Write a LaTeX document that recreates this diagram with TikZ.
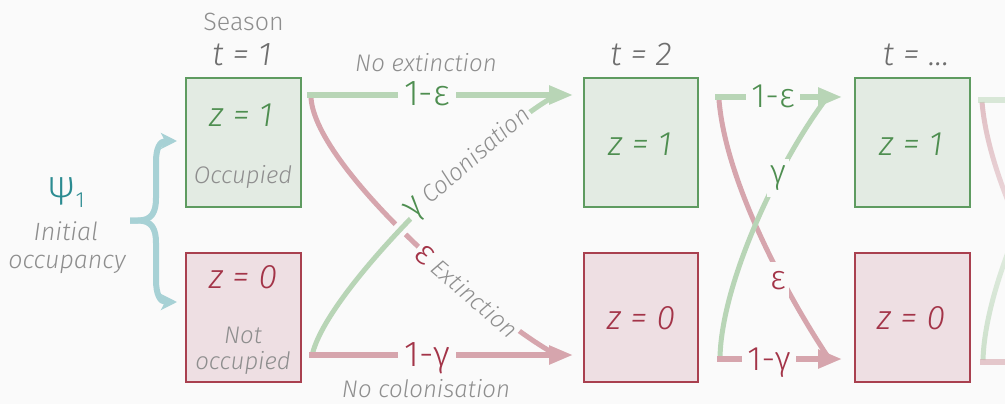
\documentclass[tikz,border=0pt]{standalone}
\usepackage{fontspec}
\setmainfont{Fira Sans}[UprightFont=* Light, ItalicFont=* Light Italic]
\usetikzlibrary{arrows.meta,fadings}
\definecolor{bg}{HTML}{FAFAFA}
\definecolor{gfill}{HTML}{E3EBE3}
\definecolor{gborder}{HTML}{5E9B60}
\definecolor{rfill}{HTML}{EEDFE3}
\definecolor{rborder}{HTML}{A9404F}
\definecolor{garrow}{HTML}{B8D5B6}
\definecolor{rarrow}{HTML}{D6A5AD}
\definecolor{gtext}{HTML}{4E8E50}
\definecolor{rtext}{HTML}{A33448}
\definecolor{grayA}{HTML}{8E8E8E}
\definecolor{grayB}{HTML}{6E6E6E}
\definecolor{tealL}{HTML}{A7D1D5}
\definecolor{tealT}{HTML}{2B8B91}
\newcommand\myfs[1]{\fontsize{#1}{#1}\selectfont}
\tikzfading[name=fadedown, top color=transparent!30, middle color=transparent!95, bottom color=transparent!100]
\tikzfading[name=fadeup, top color=transparent!100, middle color=transparent!95, bottom color=transparent!30]
\begin{document}
\begin{tikzpicture}[x=1pt,y=-1pt,
  gbox/.style={draw=gborder, fill=gfill, line width=2pt, minimum width=115pt, minimum height=129pt, outer sep=0pt, inner sep=0pt},
  rbox/.style={draw=rborder, fill=rfill, line width=2pt, minimum width=115pt, minimum height=129pt, outer sep=0pt, inner sep=0pt},
  garr/.style={draw=garrow, line width=5.5pt, -{Triangle[length=24pt,width=18pt]}},
  rarr/.style={draw=rarrow, line width=5.5pt, -{Triangle[length=24pt,width=18pt]}},
  gcurve/.style={draw=garrow, line width=5pt},
  rcurve/.style={draw=rarrow, line width=5pt},
  brace/.style={draw=tealL, line width=6pt, line join=round, -{Stealth[length=16pt,width=16pt,inset=4pt]}},
  onlab/.style={fill=bg, inner sep=3pt},
  gl/.style={text=grayA, font=\myfs{24}\itshape},
  zg/.style={anchor=base, text=gtext, font=\myfs{34}\itshape},
  zr/.style={anchor=base, text=rtext, font=\myfs{34}\itshape},
  tl/.style={anchor=base, text=grayB, font=\myfs{33}\itshape}
]
\useasboundingbox (0,0) rectangle (1005,404);
\fill[bg] (0,0) rectangle (1005,404);

% boxes
\node[gbox] (b1t) at (243.5,142.5) {};
\node[rbox] (b1b) at (243.5,317.5) {};
\node[gbox, minimum width=114pt] (b2t) at (641,142.5) {};
\node[rbox, minimum width=114pt] (b2b) at (641,317.5) {};
\node[gbox] (b3t) at (912.5,142.5) {};
\node[rbox] (b3b) at (912.5,317.5) {};

% brace
\coordinate (bmid) at (130,220.5);
\draw[brace] (bmid) -- (138,220.5) .. controls (152,220.5) and (156,212) .. (156,198) -- (156,162) .. controls (156,148) and (160,141) .. ([shift={(-9,-1.5)}]b1t.west);
\draw[brace] (bmid) -- (138,220.5) .. controls (152,220.5) and (156,229) .. (156,243) -- (156,280) .. controls (156,294) and (160,302) .. ([shift={(-9,-15.5)}]b1b.west);

% transition 1
\draw[rcurve] ([shift={(10,-44.5)}]b1t.east) .. controls +(5,72) and +(-60,-32) .. ([shift={(-29,36.5)}]b2b.west);
\draw[gcurve, preaction={draw=bg, line width=14pt}] ([shift={(11,38.5)}]b1b.east) .. controls +(13,-66) and +(-60,32) .. ([shift={(-29,-46.5)}]b2t.west);
\draw[garr] ([shift={(6,-47.5)}]b1t.east) -- ([shift={(-11,-47.5)}]b2t.west);
\draw[rarr] ([shift={(8,37.5)}]b1b.east) -- ([shift={(-11,37.5)}]b2b.west);

% transition 2
\draw[rcurve] ([shift={(21,-42.5)}]b2t.east) .. controls +(7,85) and +(-38,-57) .. ([shift={(-27,39.5)}]b3b.west);
\draw[gcurve] ([shift={(22,39.5)}]b2b.east) .. controls +(2,-77) and +(-46,61) .. ([shift={(-29,-43.5)}]b3t.west);
\draw[garr] ([shift={(17,-45.5)}]b2t.east) -- ([shift={(-13,-45.5)}]b3t.west);
\draw[rarr] ([shift={(19,41.5)}]b2b.east) -- ([shift={(-13,41.5)}]b3b.west);

% transition 3 (fading out)
\coordinate (nextT) at (1010,100);
\coordinate (nextB) at (1010,362);
\coordinate (nextR) at (1091,357);
\coordinate (nextG) at (1089,99);
\draw[rcurve, path fading=fadedown] ([shift={(12,-40.5)}]b3t.east) .. controls +(7,85) and +(-38,-57) .. (nextR);
\draw[gcurve, path fading=fadeup] ([shift={(13,42.5)}]b3b.east) .. controls +(2,-77) and +(-46,61) .. (nextG);
\draw[gcurve, line width=5.5pt, opacity=0.5] ([shift={(8,-42.5)}]b3t.east) -- (nextT);
\draw[rcurve, line width=5.5pt, opacity=0.6] ([shift={(10,44.5)}]b3b.east) -- (nextB);

% labels on connectors
\node[onlab, text=gtext, font=\myfs{36}, anchor=base, inner xsep=6pt] (l1e) at (427,106) {1-ε};
\node[onlab, text=rtext, font=\myfs{36}, anchor=base, inner xsep=6pt] (l1g) at (427,366) {1-γ};
\node[onlab, font=\myfs{35}, text=gtext, rotate=41, inner sep=2pt] (l1c) at (469,164) {γ\hspace{6pt}{\color{grayA}\myfs{24}\itshape Colonisation}};
\node[onlab, font=\myfs{35}, text=rtext, rotate=-41, inner sep=2pt] (l1x) at (467,291) {ε\hspace{6pt}{\color{grayA}\myfs{24}\itshape Extinction}};
\node[onlab, text=gtext, font=\myfs{34}, anchor=base, inner xsep=5pt] (l2e) at (773,107) {1-ε};
\node[onlab, text=rtext, font=\myfs{34}, anchor=base, inner xsep=5pt] (l2g) at (769,370) {1-γ};
\node[onlab, text=gtext, font=\myfs{34}, inner xsep=3pt, inner ysep=6pt] (l2c) at (778,178) {γ};
\node[onlab, text=rtext, font=\myfs{34}, inner xsep=3pt, inner ysep=10pt] (l2x) at (778,281) {ε};

% headings
\node[anchor=base, text=grayA, font=\myfs{25}] (season) at (243.5,31) {Season};
\node[tl] (tt1) at (242,66) {t = 1};
\node[tl] (tt2) at (641,66) {t = 2};
\node[tl] (tt3) at (916,66) {t = ...};
\node[gl, anchor=base] (noext) at (426,72) {No extinction};
\node[gl, anchor=base] (nocol) at (426,397) {No colonisation};

% box texts
\node[zg] (z1a) at (241,126) {z = 1};
\node[gl, anchor=base] (occ) at (243,183) {Occupied};
\node[zr] (z0a) at (243,288) {z = 0};
\node[gl, anchor=base] (notocc1) at (243,343) {Not};
\node[gl, anchor=base] (notocc2) at (243,369) {occupied};
\node[zg] (z1b) at (640,155) {z = 1};
\node[zr] (z0b) at (641,329) {z = 0};
\node[zg] (z1c) at (911,155) {z = 1};
\node[zr] (z0c) at (911,329) {z = 0};

% initial occupancy
\node[anchor=base, text=tealT] (psi) at (66,197) {\myfs{38}ψ\raisebox{-10pt}{\myfs{22}1}};
\node[gl, font=\myfs{25}\itshape, anchor=base] (init1) at (66,240) {Initial};
\node[gl, font=\myfs{25}\itshape, anchor=base] (init2) at (67,268) {occupancy};
\end{tikzpicture}
\end{document}
